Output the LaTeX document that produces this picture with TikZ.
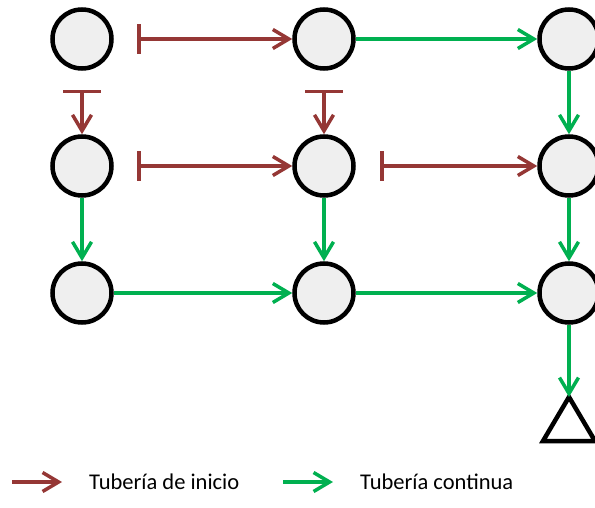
\documentclass[tikz,border=0pt]{standalone}
\usepackage{fontspec}
\setmainfont{Carlito}
\usetikzlibrary{arrows.meta}
\definecolor{redpipe}{HTML}{953735}
\definecolor{greenpipe}{HTML}{00B050}
\definecolor{nodefill}{HTML}{EFEFEF}
\begin{document}
\begin{tikzpicture}[x=1pt,y=-1pt,
  station/.style={circle,draw=black,line width=4.5pt,fill=nodefill,minimum size=59pt,inner sep=0pt},
  startpipe/.style={draw=redpipe,line width=3.5pt,{Bar[width=30pt,line width=3.5pt]}-{Straight Barb[length=16pt,width=19pt,line width=3.5pt]}},
  startpipev/.style={draw=redpipe,line width=3.5pt,{Bar[width=38pt,line width=3.5pt]}-{Straight Barb[length=16pt,width=19pt,line width=3.5pt]}},
  contpipe/.style={draw=greenpipe,line width=3.5pt,-{Straight Barb[length=16pt,width=19pt,line width=3.5pt]}},
  legendred/.style={draw=redpipe,line width=3.5pt,-{Straight Barb[length=16pt,width=19pt,line width=3.5pt]}},
  legendtext/.style={anchor=west,inner sep=0pt,font=\fontsize{22.5}{26}\selectfont}
]
\useasboundingbox (0,0) rectangle (595,508);
\clip (0,0) rectangle (595,508);
% stations
\node[station] (a1) at (82,39) {};
\node[station] (a2) at (324,39) {};
\node[station] (a3) at (569,39) {};
\node[station] (b1) at (82,166) {};
\node[station] (b2) at (324,166) {};
\node[station] (b3) at (569,166) {};
\node[station] (c1) at (82,293) {};
\node[station] (c2) at (324,293) {};
\node[station] (c3) at (569,293) {};
% end triangle
\coordinate (tri) at (569,397);
\draw[line width=4.5pt,line join=miter] (tri) -- ++(-26,44) -- ++(52,0) -- cycle;
% start pipe anchors
\coordinate (sa12) at (137,39);
\coordinate (sb12) at (137,166);
\coordinate (sb23) at (380,166);
\coordinate (sab1) at (82,90);
\coordinate (sab2) at (324,90);
% start pipes
\draw[startpipe] (sa12) -- (a2);
\draw[startpipe] (sb12) -- (b2);
\draw[startpipe] (sb23) -- (b3);
\draw[startpipev] (sab1) -- (b1);
\draw[startpipev] (sab2) -- (b2);
% continuous pipes
\draw[contpipe] (a2) -- (a3);
\draw[contpipe] (a3) -- (b3);
\draw[contpipe] (b1) -- (c1);
\draw[contpipe] (b2) -- (c2);
\draw[contpipe] (b3) -- (c3);
\draw[contpipe] (c1) -- (c2);
\draw[contpipe] (c2) -- (c3);
\draw[contpipe] (c3) -- (tri);
% legend
\coordinate (lr0) at (12,482);
\coordinate (lr1) at (62,482);
\coordinate (lg0) at (283,482);
\coordinate (lg1) at (333,482);
\draw[legendred] (lr0) -- (lr1);
\draw[contpipe] (lg0) -- (lg1);
\node[legendtext] (lt1) at (89,482) {Tubería de inicio};
\node[legendtext] (lt2) at (360,482) {Tubería continua};
\end{tikzpicture}
\end{document}
